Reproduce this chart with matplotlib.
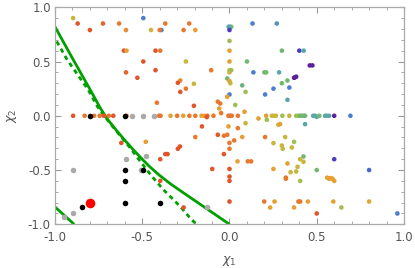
import numpy as np
import matplotlib
matplotlib.use("Agg")
import matplotlib.pyplot as plt
from matplotlib.colors import LinearSegmentedColormap
from matplotlib.ticker import MultipleLocator, FormatStrFormatter

# colour codes
R, O, A, Y, YG, G, T, B, BP, P = 0.02, 0.15, 0.30, 0.42, 0.55, 0.65, 0.75, 0.85, 0.93, 1.0

# coloured points above chi2 = 0
top_x = [-0.896, -0.87, -0.80, -0.725, -0.633, -0.593, -0.605, -0.59, -0.593, -0.494, -0.494, -0.528,
         -0.45, -0.39, -0.40, -0.368, -0.424, -0.397, -0.424, -0.416, -0.231, -0.263, -0.196,
         -0.005, 0.01, 0.0, 0.0, 0.132, 0.271, 0.0, 0.0, 0.30, -0.25, 0.0, 0.10, -0.105, 0.0, 0.0, 0.01,
         0.137, 0.20, 0.21, 0.284, -0.282, -0.296, -0.204, -0.013, 0.0, 0.005, 0.073, 0.30, -0.25,
         -0.282, 0.092, 0.252, 0.0, -0.013, 0.204, -0.067, -0.053, 0.033, -0.204, -0.059, 0.086,
         0.40, 0.425, 0.46, 0.475, 0.37, 0.382, 0.376, 0.332, 0.343, 0.332]
top_y = [0.90, 0.85, 0.79, 0.85, 0.85, 0.79, 0.60, 0.60, 0.40, 0.90, 0.50, 0.35,
         0.79, 0.79, 0.79, 0.85, 0.60, 0.60, 0.42, 0.12, 0.85, 0.79, 0.79,
         0.82, 0.82, 0.82, 0.79, 0.85, 0.85, 0.69, 0.60, 0.60, 0.50, 0.50, 0.50, 0.42, 0.42, 0.40, 0.42,
         0.40, 0.40, 0.40, 0.40, 0.325, 0.304, 0.295, 0.344, 0.32, 0.30, 0.28, 0.30, 0.25,
         0.22, 0.22, 0.25, 0.196, 0.175, 0.196, 0.13, 0.113, 0.10, 0.092, 0.067, 0.037,
         0.60, 0.60, 0.464, 0.464, 0.35, 0.36, 0.355, 0.325, 0.26, 0.147]
top_c = [Y, R, R, 0.08, O, 0.22, R, A, 0.08, B, R, R,
         Y, B, O, O, R, O, R, O, O, O, A,
         T, G, T, BP, B, 0.8, YG, A, G, Y, A, G, O, Y, Y, YG,
         B, G, G, T, 0.22, R, Y, G, A, Y, 0.68, G, O,
         R, YG, B, B, A, B, O, O, YG, R, A, A,
         BP, T, P, P, P, P, P, G, B, T]

# coloured points along chi2 = 0
mid_x = [-0.896, -0.83, -0.776, -0.744, -0.72, -0.692, -0.666, -0.59, -0.404, -0.395, -0.338, -0.30,
         -0.265, -0.23, -0.196, -0.16, -0.143, -0.127, -0.092, -0.048, -0.006, 0.004, 0.013, 0.048,
         0.166, 0.21, 0.214, 0.243, 0.252, 0.266, 0.303, 0.343, 0.382, 0.395, 0.405, 0.416, 0.428,
         0.433, 0.48, 0.49, 0.50, 0.515, 0.548, 0.557, 0.571, 0.60, 0.693]
mid_y = [0.0, 0.0, 0.0, 0.0, 0.0, 0.0, 0.0, 0.0, 0.0, 0.0, 0.0, 0.0,
         0.0, 0.0, 0.0, 0.0, 0.0, 0.0, 0.0, 0.025, 0.0, 0.0, 0.0, 0.0,
         -0.025, 0.0, -0.037, 0.0, 0.0, 0.0, 0.0, 0.0, 0.0, 0.0, 0.0, 0.0, 0.0,
         0.0, 0.0, 0.0, -0.01, 0.0, 0.0, 0.0, 0.0, 0.0, 0.0]
mid_c = [R, O, O, O, R, O, R, O, O, O, A, O,
         A, O, O, A, A, O, O, O, O, O, O, O,
         A, A, YG, Y, Y, Y, YG, Y, YG, YG, G, G, G,
         G, T, T, T, G, T, T, T, P, B]

# coloured points below chi2 = 0
low_x = [-0.13, -0.158, -0.006, 0.048, 0.092, 0.28, 0.29, 0.433, -0.196, -0.067, -0.032, -0.013,
         0.073, 0.204, 0.0, 0.027, 0.0, -0.284, -0.296, 0.252, -0.368, -0.355, -0.397, -0.032,
         0.046, 0.105, 0.124, 0.252, -0.099, 0.0, 0.0, 0.0, 0.0, 0.199, 0.258, 0.233, -0.263,
         -0.62, -0.48, -0.397, 0.319, 0.37, 0.30, 0.305, 0.357, 0.424, 0.405, 0.424, 0.60, 0.332,
         0.39, 0.35, 0.382, 0.50, 0.80, 0.323, 0.323, 0.405, 0.56, 0.57, 0.58, 0.59, 0.60,
         0.395, 0.405, 0.449, 0.595, 0.80, 0.37, 0.641, 0.50, 0.962]
low_y = [-0.012, -0.098, -0.098, -0.114, -0.068, -0.083, -0.077, -0.077, -0.196, -0.175, -0.184, -0.175,
         -0.196, -0.196, -0.25, -0.227, -0.304, -0.283, -0.304, -0.252, -0.353, -0.353, -0.40, -0.353,
         -0.42, -0.42, -0.42, -0.49, -0.49, -0.49, -0.56, -0.60, -0.79, -0.79, -0.79, -0.845, -0.845,
         -0.25, -0.24, -0.60, -0.196, -0.24, -0.274, -0.304, -0.292, -0.375, -0.40, -0.424, -0.40, -0.44,
         -0.47, -0.52, -0.513, -0.50, -0.50, -0.57, -0.58, -0.60, -0.57, -0.58, -0.575, -0.58, -0.60,
         -0.79, -0.79, -0.79, -0.79, -0.79, -0.845, -0.845, -0.90, -0.90]
low_c = [R, R, A, O, Y, Y, A, T, O, R, O, O,
         A, O, O, O, O, R, R, Y, R, R, R, R,
         A, O, O, A, R, R, R, R, R, O, A, A, R,
         R, A, R, Y, YG, Y, Y, Y, G, Y, Y, BP, A,
         Y, Y, Y, G, 0.88, O, O, YG, A, A, A, A, A,
         O, O, A, A, 0.35, A, YG, R, B]

gray_x = [-0.56, -0.494, -0.43, -0.477, -0.595, -0.899, -0.507, -0.896, -0.946, -0.128]
gray_y = [0.0, 0.0, 0.0, -0.366, -0.396, -0.498, -0.50, -0.90, -0.937, -0.845]
black_x = [-0.8, -0.6, -0.6, -0.496, -0.6, -0.6, -0.4, -0.845]
black_y = [0.0, 0.0, -0.5, -0.5, -0.6, -0.8, -0.8, -0.845]
red_x = [-0.8]
red_y = [-0.8]

# curves
solid_x = [-1.0, -0.9, -0.8, -0.74, -0.7, -0.645, -0.6, -0.55, -0.5, -0.46, -0.4, -0.34, -0.3, -0.2, -0.1, 0.0]
solid_y = [0.82, 0.53, 0.245, 0.07, -0.03, -0.14, -0.225, -0.315, -0.40, -0.465, -0.55, -0.625, -0.67, -0.78, -0.89, -1.0]
solid2_x = [-1.0, -0.945, -0.89]
solid2_y = [-0.84, -0.92, -1.0]
dash_x = [-0.99, -0.93, -0.87, -0.81, -0.757, -0.73, -0.673, -0.568, -0.511, -0.444, -0.378, -0.33, -0.282, -0.225, -0.196]
dash_y = [0.685, 0.516, 0.378, 0.24, 0.086, 0.025, -0.092, -0.298, -0.421, -0.559, -0.682, -0.759, -0.836, -0.943, -0.99]

cmap = LinearSegmentedColormap.from_list("rb", [
    (0.00, "#e0502a"), (0.15, "#e8782e"), (0.30, "#e6a032"), (0.42, "#c9b53e"),
    (0.55, "#9fbf55"), (0.65, "#74b86e"), (0.75, "#5aa8a8"), (0.85, "#4a80d0"),
    (0.93, "#4a40c0"), (1.00, "#5a209a")])

fig = plt.figure(figsize=(4.15, 2.68), dpi=100)
ax = fig.add_axes([0.1325, 0.163, 0.841, 0.81])

green = "#00a000"
ax.plot(solid_x, solid_y, color=green, lw=2.0, zorder=2, solid_capstyle="butt")
ax.plot(solid2_x, solid2_y, color=green, lw=2.0, zorder=2, solid_capstyle="butt")
ax.plot(dash_x, dash_y, color=green, lw=2.0, ls=(0, (1.6, 1.4)), zorder=2)

for xs, ys, cs in [(top_x, top_y, top_c), (mid_x, mid_y, mid_c), (low_x, low_y, low_c)]:
    ax.scatter(xs, ys, c=cs, cmap=cmap, vmin=0, vmax=1, s=11, linewidths=0, zorder=3)
ax.scatter(gray_x, gray_y, color="#aaaaaa", s=16, linewidths=0, zorder=4)
ax.scatter(black_x, black_y, color="black", s=16, linewidths=0, zorder=5)
ax.scatter(red_x, red_y, color="#ff0000", s=48, linewidths=0, zorder=6)

ax.set_xlim(-1, 1)
ax.set_ylim(-1, 1)
ax.xaxis.set_major_locator(MultipleLocator(0.5))
ax.yaxis.set_major_locator(MultipleLocator(0.5))
ax.xaxis.set_minor_locator(MultipleLocator(0.1))
ax.yaxis.set_minor_locator(MultipleLocator(0.1))
ax.xaxis.set_major_formatter(FormatStrFormatter("%.1f"))
ax.yaxis.set_major_formatter(FormatStrFormatter("%.1f"))
ax.tick_params(which="both", direction="in", top=True, right=True, color="#999999",
               labelcolor="#555555", labelsize=8.5)
ax.tick_params(which="major", length=4, width=0.8)
ax.tick_params(which="minor", length=2.2, width=0.6)
ax.tick_params(axis="x", pad=5)
ax.tick_params(axis="y", pad=3)
for sp in ax.spines.values():
    sp.set_color("#aaaaaa")
    sp.set_linewidth(0.9)

ax.set_xlabel(r"$\chi_1$", color="#555555", fontsize=9, labelpad=7)
ax.set_ylabel(r"$\chi_2$", color="#555555", fontsize=9, labelpad=6)

fig.savefig("out.png", dpi=100)
